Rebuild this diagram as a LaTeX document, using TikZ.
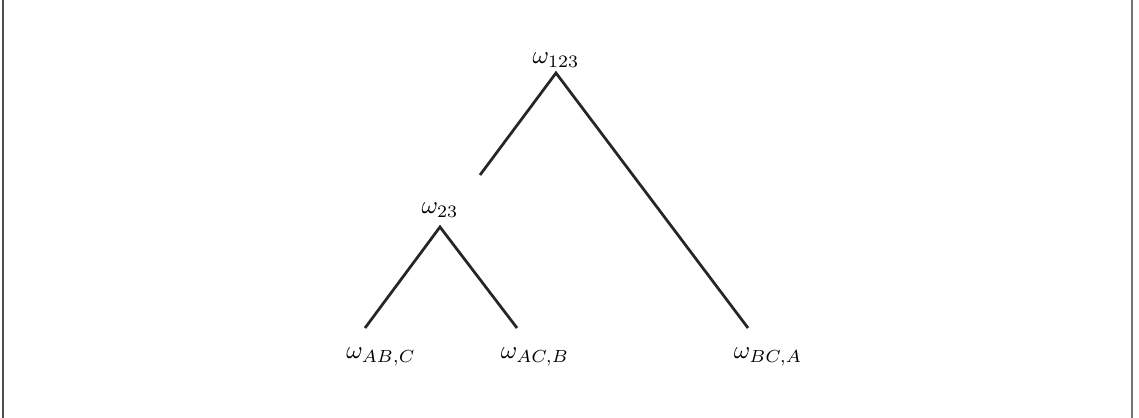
\documentclass[tikz,border=0pt]{standalone}
\begin{document}
\begin{tikzpicture}[x=0.4pt,y=-0.4pt,
  lbl/.style={inner sep=0pt,font=\normalsize},
  branch/.style={line width=1.1pt,black!85},
  frame/.style={line width=0.6pt,black!70}]
\useasboundingbox (0,0) rectangle (1139,418);
\coordinate (fl1) at (3,0); \coordinate (fl2) at (3,418);
\coordinate (fr1) at (1132,0); \coordinate (fr2) at (1132,418);
\draw[frame] (fl1) -- (fl2);
\draw[frame,black!55] (fr1) -- (fr2);
% labels
\node[lbl] (w123) at (556,60) {$\omega_{123}$};
\node[lbl] (w23) at (440,210) {$\omega_{23}$};
\node[lbl] (wab) at (381,357) {$\omega_{AB,C}$};
\node[lbl] (wac) at (535,357) {$\omega_{AC,B}$};
\node[lbl] (wbc) at (768,357) {$\omega_{BC,A}$};
% line end points
\coordinate (a123) at (556,73);
\coordinate (a23) at (440,227);
\coordinate (free) at (480,175);
\coordinate (lab) at (365,328);
\coordinate (lac) at (517,328);
\coordinate (lbc) at (748,328);
\draw[branch] (free) -- (a123) -- (lbc);
\draw[branch] (lab) -- (a23) -- (lac);
\end{tikzpicture}
\end{document}
